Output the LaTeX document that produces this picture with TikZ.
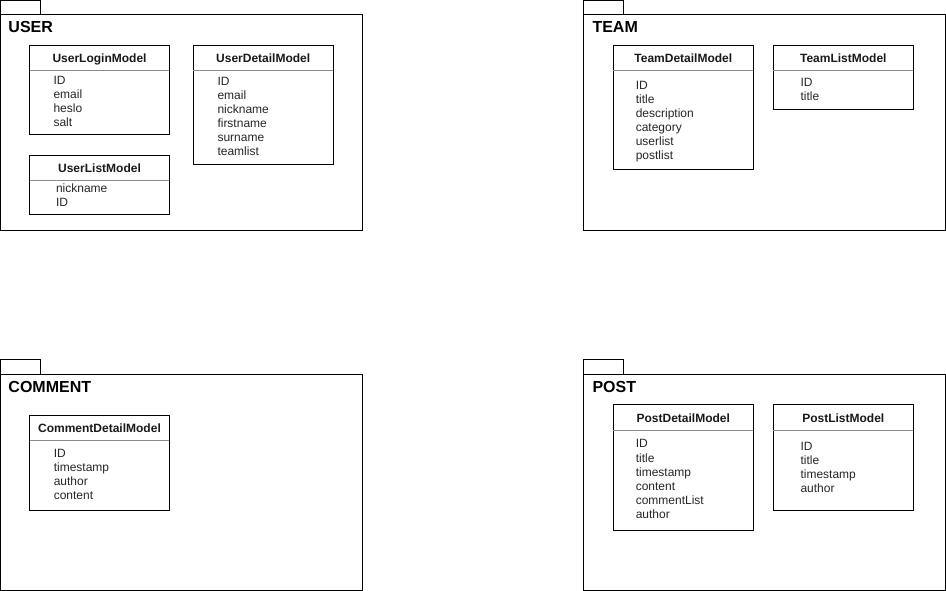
\documentclass[tikz,border=0pt]{standalone}
\usepackage{fontspec}
\setmainfont{Liberation Sans}
\usetikzlibrary{calc}
\begin{document}
\begin{tikzpicture}[x=0.75pt,y=-0.75pt,line width=0.75pt,
  boxline/.style={draw=black},
  sepline/.style={draw=black!45},
  hdr/.style={anchor=base,inner sep=0pt,font=\fontsize{9pt}{11pt}\selectfont\bfseries,text=black!90},
  fld/.style={anchor=base west,inner sep=0pt,font=\fontsize{9pt}{11pt}\selectfont,text=black!85},
  ttl/.style={anchor=base west,inner sep=0pt,font=\fontsize{12pt}{14pt}\selectfont\bfseries}]
\useasboundingbox (0,0) rectangle (946,591);

% ---------- packages ----------
\draw[boxline] (0.5,0.5) rectangle (40.5,14.3);
\draw[boxline] (0.5,14.3) rectangle (362,230.5);
\node[ttl] (tuser) at (8,32.3) {USER};

\draw[boxline] (583.5,0.5) rectangle (623.5,14.3);
\draw[boxline] (583.5,14.3) rectangle (945,230.5);
\node[ttl] (tteam) at (592,32.3) {TEAM};

\draw[boxline] (0.5,360) rectangle (40.5,374.3);
\draw[boxline] (0.5,374.3) rectangle (362,590);
\node[ttl] (tcomment) at (8,392.5) {COMMENT};

\draw[boxline] (583.5,360) rectangle (623.5,374.3);
\draw[boxline] (583.5,374.3) rectangle (945,590);
\node[ttl] (tpost) at (592,392.5) {POST};

% ---------- classes ----------
% UserLoginModel
\draw[boxline] (29.7,45.3) rectangle (169.3,135);
\draw[sepline] (29.7,70.3) -- (169.3,70.3);
\node[hdr] (ulm) at (99.5,62.1) {UserLoginModel};
\foreach \t [count=\i from 0] in {ID,email,heslo,salt}
  \node[fld] (ulm-\i) at (53,84.3+14*\i) {\t};

% UserDetailModel
\draw[boxline] (193,45.3) rectangle (333.3,165);
\draw[sepline] (193,70.3) -- (333.3,70.3);
\node[hdr] (udm) at (263.2,62.1) {UserDetailModel};
\foreach \t [count=\i from 0] in {ID,email,nickname,firstname,surname,teamlist}
  \node[fld] (udm-\i) at (217,85.3+14*\i) {\t};

% UserListModel
\draw[boxline] (29.7,155.3) rectangle (169.3,215);
\draw[sepline] (29.7,180.3) -- (169.3,180.3);
\node[hdr] (ulsm) at (99.5,172.1) {UserListModel};
\foreach \t [count=\i from 0] in {nickname,ID}
  \node[fld] (ulsm-\i) at (55.5,192.6+14*\i) {\t};

% TeamDetailModel
\draw[boxline] (613.3,45.3) rectangle (753.3,170);
\draw[sepline] (613.3,70.3) -- (753.3,70.3);
\node[hdr] (tdm) at (683.3,62.1) {TeamDetailModel};
\foreach \t [count=\i from 0] in {ID,title,description,category,userlist,postlist}
  \node[fld] (tdm-\i) at (635.3,90+14*\i) {\t};

% TeamListModel
\draw[boxline] (773.3,45.3) rectangle (913.3,110);
\draw[sepline] (773.3,70.3) -- (913.3,70.3);
\node[hdr] (tlm) at (843.3,62.1) {TeamListModel};
\foreach \t [count=\i from 0] in {ID,title}
  \node[fld] (tlm-\i) at (800,87+14*\i) {\t};

% CommentDetailModel
\draw[boxline] (29.7,415.3) rectangle (169.3,510);
\draw[sepline] (29.7,440.3) -- (169.3,440.3);
\node[hdr] (cdm) at (99.5,432.1) {CommentDetailModel};
\foreach \t [count=\i from 0] in {ID,timestamp,author,content}
  \node[fld] (cdm-\i) at (53.3,457+14*\i) {\t};

% PostDetailModel
\draw[boxline] (613.3,405) rectangle (753.3,530);
\draw[sepline] (613.3,430.3) -- (753.3,430.3);
\node[hdr] (pdm) at (683.3,422) {PostDetailModel};
\foreach \t [count=\i from 0] in {ID,title,timestamp,content,commentList,author}
  \node[fld] (pdm-\i) at (635.3,448+14*\i) {\t};

% PostListModel
\draw[boxline] (773.3,405) rectangle (913.3,510);
\draw[sepline] (773.3,430.3) -- (913.3,430.3);
\node[hdr] (plm) at (843.3,422) {PostListModel};
\foreach \t [count=\i from 0] in {ID,title,timestamp,author}
  \node[fld] (plm-\i) at (800,450.3+14*\i) {\t};
\end{tikzpicture}
\end{document}
